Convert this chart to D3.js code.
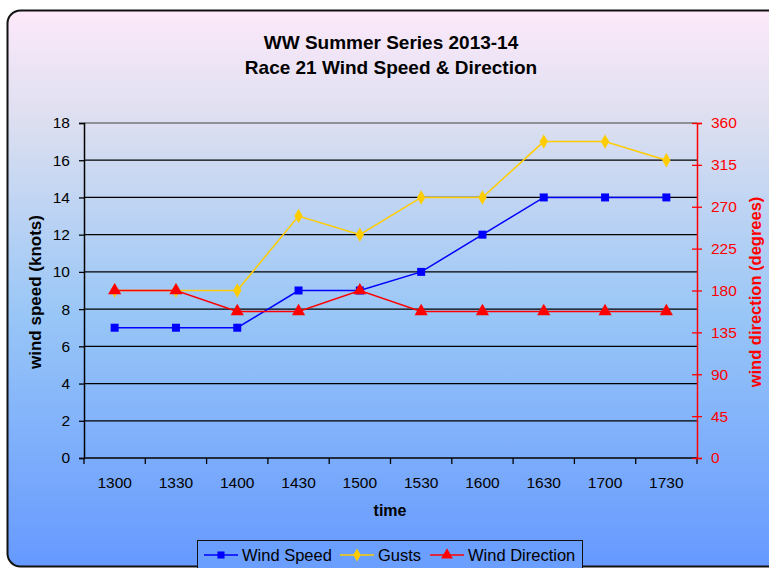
<!DOCTYPE html>
<meta charset="utf-8">
<script src="https://d3js.org/d3.v7.js"></script>
<style>
  body { margin: 0; }
  text { font-family: "Liberation Sans", Arial, sans-serif; }
</style>
<svg id="chart" width="769" height="568"></svg>
<script>
  const width = 769;
  const height = 568;

  // data
  const times = ["1300", "1330", "1400", "1430", "1500", "1530", "1600", "1630", "1700", "1730"];
  const windSpeed = [7, 7, 7, 9, 9, 10, 12, 14, 14, 14];
  const gusts = [9, 9, 9, 13, 12, 14, 14, 17, 17, 16];
  const windDirection = [180, 180, 157.5, 157.5, 180, 157.5, 157.5, 157.5, 157.5, 157.5];
  const speedTicks = [0, 2, 4, 6, 8, 10, 12, 14, 16, 18];
  const dirTicks = [0, 45, 90, 135, 180, 225, 270, 315, 360];

  const svg = d3.select("#chart");
  const font = "'Liberation Sans', Arial, sans-serif";

  // background gradient
  const defs = svg.append("defs");
  const grad = defs.append("linearGradient")
    .attr("id", "bg")
    .attr("x1", 0).attr("y1", 0).attr("x2", 0).attr("y2", 1);
  grad.append("stop").attr("offset", "0%").attr("stop-color", "#fde9fa");
  grad.append("stop").attr("offset", "20%").attr("stop-color", "#dcdff0");
  grad.append("stop").attr("offset", "55%").attr("stop-color", "#98c6f7");
  grad.append("stop").attr("offset", "100%").attr("stop-color", "#6699ff");

  svg.append("rect")
    .attr("x", 7.5).attr("y", 10.5)
    .attr("width", 780).attr("height", 556)
    .attr("rx", 13).attr("ry", 13)
    .attr("fill", "url(#bg)")
    .attr("stroke", "#111")
    .attr("stroke-width", 2);

  // title
  svg.append("text")
    .attr("x", 391).attr("y", 49)
    .attr("text-anchor", "middle")
    .attr("font-size", 19).attr("font-weight", "bold")
    .text("WW Summer Series 2013-14");
  svg.append("text")
    .attr("x", 391).attr("y", 74)
    .attr("text-anchor", "middle")
    .attr("font-size", 19).attr("font-weight", "bold")
    .text("Race 21 Wind Speed & Direction");

  const margin = { left: 84, right: 697, top: 123, bottom: 458 };

  const x = d3.scaleBand()
    .domain(times)
    .range([margin.left, margin.right]);

  const yL = d3.scaleLinear().domain([0, 18]).range([margin.bottom, margin.top]);
  const yR = d3.scaleLinear().domain([0, 360]).range([margin.bottom, margin.top]);

  // gridlines
  svg.append("g")
    .selectAll("line")
    .data(speedTicks.slice(1))
    .join("line")
    .attr("x1", margin.left).attr("x2", margin.right)
    .attr("y1", d => yL(d)).attr("y2", d => yL(d))
    .attr("stroke", d => d === 18 ? "#777" : "#000")
    .attr("stroke-width", 1.3);

  // left axis
  const leftAxis = svg.append("g")
    .attr("transform", `translate(${margin.left},0)`)
    .call(d3.axisLeft(yL).tickValues(speedTicks).tickSize(5).tickPadding(9));
  leftAxis.select(".domain").attr("stroke", "#000").attr("stroke-width", 1.5);
  leftAxis.selectAll(".tick line").attr("stroke", "#000").attr("stroke-width", 1.3);
  leftAxis.selectAll("text").attr("font-size", 15.5).attr("fill", "#000")
    .style("font-family", font);

  // bottom axis: ticks between categories
  const bottom = svg.append("g");
  bottom.append("line")
    .attr("x1", margin.left).attr("x2", margin.right)
    .attr("y1", margin.bottom).attr("y2", margin.bottom)
    .attr("stroke", "#000").attr("stroke-width", 1.5);
  bottom.selectAll("line.tk")
    .data(times)
    .join("line")
    .attr("class", "tk")
    .attr("x1", d => x(d) + x.bandwidth()).attr("x2", d => x(d) + x.bandwidth())
    .attr("y1", margin.bottom).attr("y2", margin.bottom + 6)
    .attr("stroke", "#000").attr("stroke-width", 1.3);
  bottom.append("line")
    .attr("x1", margin.left).attr("x2", margin.left)
    .attr("y1", margin.bottom).attr("y2", margin.bottom + 6)
    .attr("stroke", "#000").attr("stroke-width", 1.3);
  bottom.selectAll("text")
    .data(times)
    .join("text")
    .attr("x", d => x(d) + x.bandwidth() / 2)
    .attr("y", margin.bottom + 30)
    .attr("text-anchor", "middle")
    .attr("font-size", 15.5)
    .text(d => d);

  // right axis
  const rightAxis = svg.append("g")
    .attr("transform", `translate(${margin.right},0)`)
    .call(d3.axisRight(yR).tickValues(dirTicks).tickSize(5).tickPadding(9));
  rightAxis.select(".domain").attr("stroke", "#ff0000").attr("stroke-width", 1.5);
  rightAxis.selectAll(".tick line").attr("stroke", "#ff0000").attr("stroke-width", 1.3)
    .attr("x1", -5);
  rightAxis.selectAll("text").attr("font-size", 15.5).attr("fill", "#ff0000")
    .style("font-family", font);

  // axis titles
  svg.append("text")
    .attr("transform", "translate(41,292) rotate(-90)")
    .attr("text-anchor", "middle")
    .attr("font-size", 17).attr("font-weight", "bold")
    .text("wind speed (knots)");
  svg.append("text")
    .attr("x", 390).attr("y", 516)
    .attr("text-anchor", "middle")
    .attr("font-size", 16).attr("font-weight", "bold")
    .text("time");
  svg.append("text")
    .attr("transform", "translate(761,292) rotate(-90)")
    .attr("text-anchor", "middle")
    .attr("font-size", 16.5).attr("font-weight", "bold")
    .attr("fill", "#ff0000")
    .text("wind direction (degrees)");

  const cx = d => x(d) + x.bandwidth() / 2;

  function drawSeries(values, scale, color, symbol, size) {
    const pts = times.map((t, i) => [cx(t), scale(values[i])]);
    svg.append("path")
      .attr("d", d3.line()(pts))
      .attr("fill", "none")
      .attr("stroke", color)
      .attr("stroke-width", 1.5);
    svg.append("g")
      .selectAll("path")
      .data(pts)
      .join("path")
      .attr("transform", d => `translate(${d[0]},${d[1]})`)
      .attr("d", d3.symbol().type(symbol).size(size))
      .attr("fill", color);
  }

  drawSeries(windSpeed, yL, "#0000ff", d3.symbolSquare, 64);
  drawSeries(gusts, yL, "#ffcc00", d3.symbolDiamond, 60);
  drawSeries(windDirection, yR, "#ff0000", d3.symbolTriangle, 75);

  // legend
  const legend = svg.append("g");
  legend.append("rect")
    .attr("x", 197.5).attr("y", 540.5)
    .attr("width", 385).attr("height", 34)
    .attr("fill", "#6a9eff")
    .attr("stroke", "#111").attr("stroke-width", 1);

  const items = [
    { name: "Wind Speed", color: "#0000ff", symbol: d3.symbolSquare, size: 50, x: 204 },
    { name: "Gusts", color: "#ffcc00", symbol: d3.symbolDiamond, size: 50, x: 340 },
    { name: "Wind Direction", color: "#ff0000", symbol: d3.symbolTriangle, size: 60, x: 430 }
  ];
  items.forEach(it => {
    legend.append("line")
      .attr("x1", it.x).attr("x2", it.x + 34)
      .attr("y1", 555).attr("y2", 555)
      .attr("stroke", it.color).attr("stroke-width", 1.5);
    legend.append("path")
      .attr("transform", `translate(${it.x + 17},555)`)
      .attr("d", d3.symbol().type(it.symbol).size(it.size))
      .attr("fill", it.color);
    legend.append("text")
      .attr("x", it.x + 38).attr("y", 561)
      .attr("font-size", 16.5)
      .attr("fill", "#000")
      .text(it.name);
  });
</script>
